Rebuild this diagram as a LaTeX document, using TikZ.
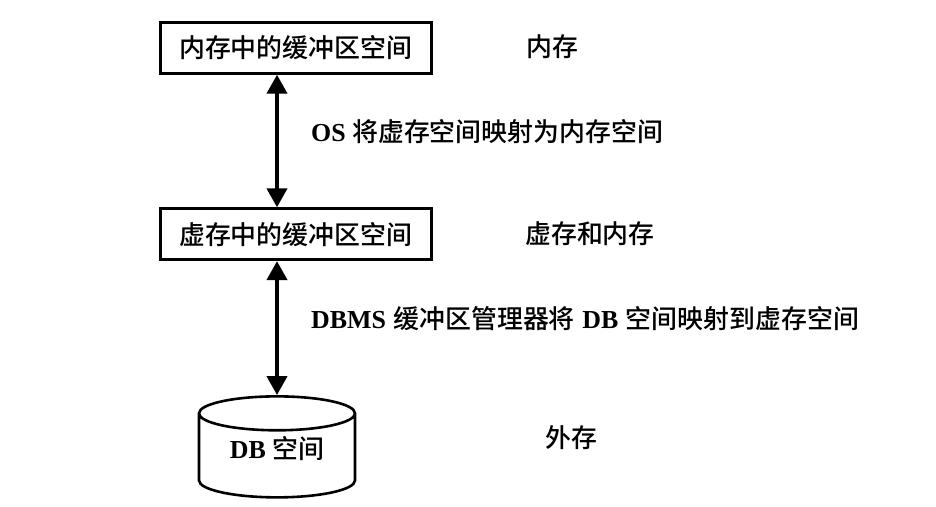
\documentclass[tikz,border=0pt]{standalone}
\usepackage{fontspec}
\setmainfont{Liberation Serif}
\newfontfamily\cjk{Noto Sans CJK SC Medium}
\newcommand{\zh}{\cjk\mdseries\fontsize{26}{28}\selectfont}
\usetikzlibrary{arrows.meta,positioning,shapes.geometric}
\begin{document}
\begin{tikzpicture}[
  x=1bp,y=-1bp,
  font=\bfseries\fontsize{26}{28}\selectfont,
  buf/.style={draw,line width=2.8bp,minimum width=271bp,minimum height=51bp,inner sep=0pt,font=\zh},
  dbcyl/.style={cylinder,shape border rotate=90,draw,line width=2.6bp,aspect=0.36,minimum width=156bp,minimum height=101bp,inner sep=0pt},
  lbl/.style={anchor=west,inner sep=0pt},
  flow/.style={{Triangle[length=19bp,width=20bp]}-{Triangle[length=19bp,width=20bp]},line width=4bp}
]
\useasboundingbox (0,0) rectangle (936,507);

%------ boxes ------------------------------------------------------------
\node[buf] (mem)  at (295.7,47.8)  {内存中的缓冲区空间};
\node[buf] (virt) at (295.7,234.2) {虚存中的缓冲区空间};
\node[dbcyl] (db) at (277,456) {\raisebox{-2bp}[0pt][0pt]{DB {\zh 空间}}};

%------ right column -----------------------------------------------------
\node[lbl] (lmem)  at (526,47)  {\zh 内存};
\node[lbl] (lvirt) at (525,234) {\zh 虚存和内存};
\node[lbl] (ldisk) at (545,438) {\zh 外存};
\node[lbl] (los)   at (311,132) {OS {\zh 将虚存空间映射为内存空间}};
\node[lbl] (ldbms) at (311,319) {DBMS\hspace{1bp} {\zh 缓冲区管理器将}\hspace{1bp} DB\hspace{1bp} {\zh 空间映射到虚存空间}};

%------ arrows -----------------------------------------------------------
\draw[flow] (mem.south -| db.north) -- (virt.north -| db.north);
\draw[flow] (virt.south -| db.north) -- (db.north);
\end{tikzpicture}
\end{document}
